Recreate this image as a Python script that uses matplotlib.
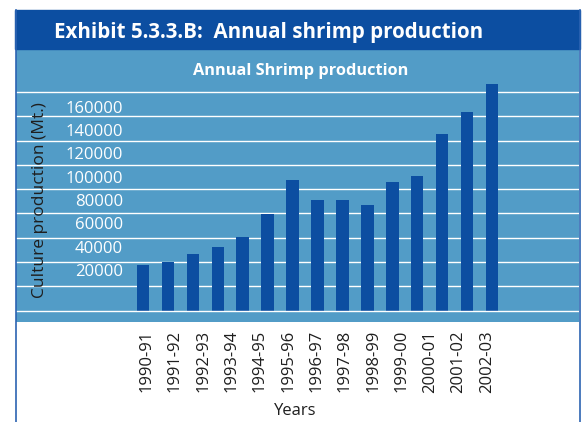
import matplotlib.pyplot as plt
from matplotlib.patches import Rectangle
from matplotlib.lines import Line2D

plt.rcParams['font.family'] = ['Open Sans', 'DejaVu Sans']

# ---------------------------------------------------------------------------
# data
# ---------------------------------------------------------------------------
production_mt = [37500, 40000, 46500, 52000, 60500, 79500, 107500, 91000,
                 91000, 87000, 106000, 111000, 145500, 163500, 186500]
year_labels = ['1990-91', '1991-92', '1992-93', '1993-94', '1994-95',
               '1995-96', '1996-97', '1997-98', '1998-99', '1999-00',
               '2000-01', '2001-02', '2002-03']
tick_values = [20000, 40000, 60000, 80000, 100000, 120000, 140000, 160000]
grid_values = list(range(0, 200000, 20000))

# ---------------------------------------------------------------------------
# colours / layout (pixels on a 586x422 canvas)
# ---------------------------------------------------------------------------
DARK_BLUE = '#0c4ea1'
PANEL_BLUE = '#529cc7'
BORDER = '#2c63b2'
TEXT_DARK = '#1e1e1e'

W, H = 586, 422
PANEL_L, PANEL_R = 16, 579
PANEL_T, PANEL_B = 49.3, 321.7
ZERO_PX, STEP_PX = 310.5, 24.27        # bar baseline and 20000-step height
LABEL_PX, LABEL_STEP_PX = 270.0, 23.33  # where the "20000" label sits
BAR0_PX, BAR_STEP_PX = 143.0, 24.93
XLAB0_PX, XLAB_STEP_PX = 146.7, 28.33


def fx(px):
    return px / W


def fy(py):
    return 1 - py / H


fig = plt.figure(figsize=(5.86, 4.22), dpi=100)

# header band and frame
fig.patches.append(Rectangle((fx(15), fy(49.3)), fx(579.5) - fx(15), fy(10) - fy(49.3),
                             transform=fig.transFigure, color=DARK_BLUE, zorder=0))
for xpx in (15.5, 579.5):
    fig.lines.append(Line2D([fx(xpx), fx(xpx)], [fy(10), 0], transform=fig.transFigure,
                            color=BORDER, lw=1.2, zorder=5))

fig.text(fx(54), fy(38.3), 'Exhibit 5.3.3.B:  Annual shrimp production', color='white',
         fontsize=14.8, fontweight='bold', ha='left', va='baseline')

rect = [fx(PANEL_L), fy(PANEL_B), fx(PANEL_R) - fx(PANEL_L), fy(PANEL_T) - fy(PANEL_B)]

# --- main plot: bars + gridlines ---
ax = fig.add_axes(rect)
ax.set_facecolor(PANEL_BLUE)
for s in ax.spines.values():
    s.set_visible(False)
ax.set_xticks([])
ax.set_yticks([])

ax.set_ylim(-(PANEL_B - ZERO_PX) / STEP_PX * 20000, (ZERO_PX - PANEL_T) / STEP_PX * 20000)
ax.set_xlim(-(BAR0_PX - PANEL_L) / BAR_STEP_PX, (PANEL_R - BAR0_PX) / BAR_STEP_PX)

for g in grid_values:
    ax.axhline(g, color='white', lw=1.0, zorder=1 if g else 3)

ax.bar(range(len(production_mt)), production_mt, width=0.5, color=DARK_BLUE, zorder=2)

ax.text((301 - PANEL_L) / (PANEL_R - PANEL_L), (PANEL_B - 75) / (PANEL_B - PANEL_T),
        'Annual Shrimp production', transform=ax.transAxes,
        color='white', fontsize=11.8, fontweight='bold', ha='center', va='baseline')

# --- y tick labels (own scale, sitting slightly off the gridlines) ---
ay = fig.add_axes([fx(123), rect[1], 0.01, rect[3]])
ay.patch.set_visible(False)
for s in ay.spines.values():
    s.set_visible(False)
ay.set_ylim(20000 - (PANEL_B - LABEL_PX) / LABEL_STEP_PX * 20000,
            20000 + (LABEL_PX - PANEL_T) / LABEL_STEP_PX * 20000)
ay.set_yticks(tick_values)
ay.set_yticklabels([str(v) for v in tick_values])
ay.tick_params(axis='y', length=0, pad=0, labelcolor='white', labelsize=12)
ay.set_xticks([])

# --- x category labels below the panel ---
axl = fig.add_axes(rect)
axl.patch.set_visible(False)
for s in axl.spines.values():
    s.set_visible(False)
axl.set_xlim(-(XLAB0_PX - PANEL_L) / XLAB_STEP_PX, (PANEL_R - XLAB0_PX) / XLAB_STEP_PX)
axl.set_xticks(range(len(year_labels)))
axl.set_xticklabels(year_labels, rotation=90)
axl.tick_params(axis='x', length=0, pad=6, labelcolor=TEXT_DARK, labelsize=12)
axl.set_yticks([])

fig.text(fx(40), fy(200), 'Culture production (Mt.)', rotation=90, color=TEXT_DARK,
         fontsize=12.5, ha='center', va='center')
fig.text(fx(295.7), fy(415), 'Years', color=TEXT_DARK, fontsize=12, ha='center', va='baseline')

fig.savefig('out.png', dpi=100)
